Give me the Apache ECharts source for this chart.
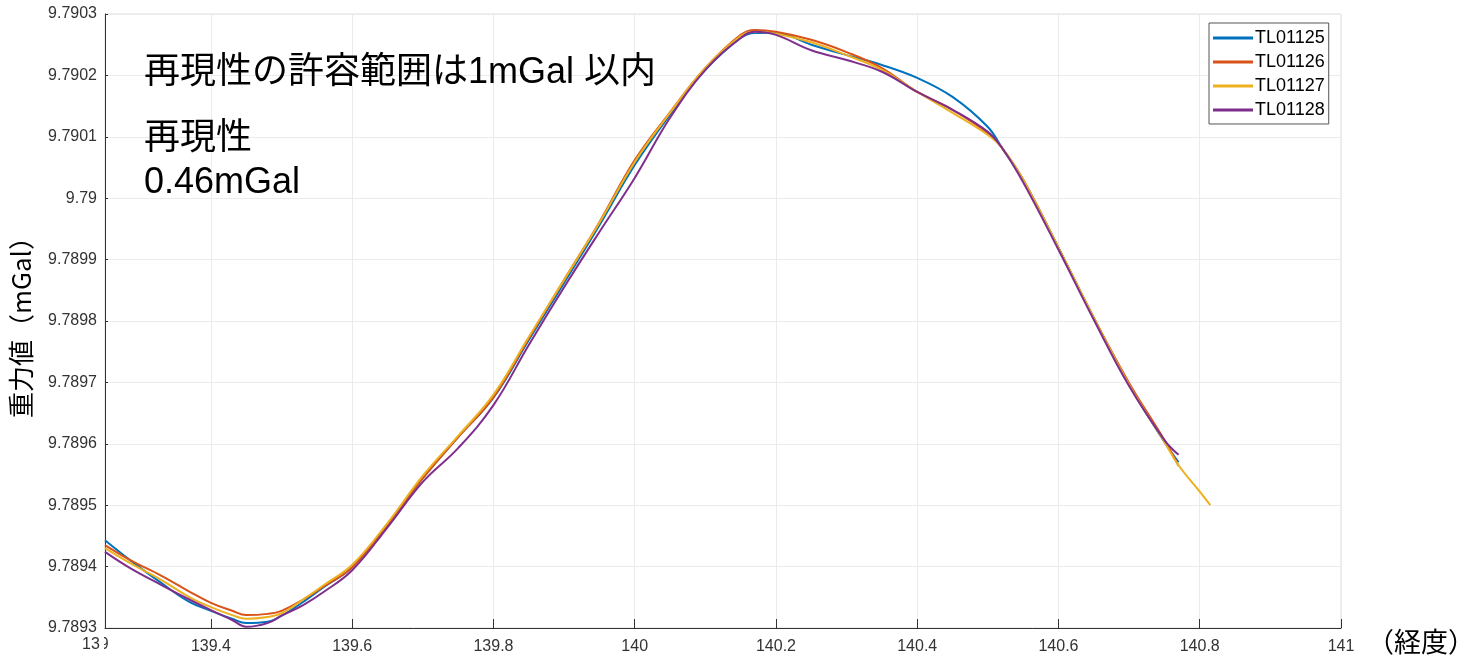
<!DOCTYPE html>
<html>
<head>
<meta charset="utf-8">
<script src="https://cdn.jsdelivr.net/npm/echarts@6/dist/echarts.min.js"></script>
<style>
html,body{margin:0;padding:0;background:#fff;}
#chart{width:1482px;height:666px;}
</style>
</head>
<body>
<div id="chart"></div>
<script>
// Longitude sample positions (shared)
const longitudes = [139.25, 139.285, 139.33, 139.37, 139.4, 139.43, 139.45, 139.48, 139.5, 139.53, 139.56, 139.6,
  139.65, 139.7, 139.75, 139.8, 139.85, 139.9, 139.95, 140, 140.05, 140.1, 140.15, 140.17, 140.2, 140.25,
  140.3, 140.35, 140.4, 140.45, 140.5, 140.52, 140.55, 140.6, 140.65, 140.7, 140.75, 140.77];
const longitudesExtra = [140.8, 140.815];

const seriesNames = ['TL01125', 'TL01126', 'TL01127', 'TL01128'];

const gTL01125 = [9.789443, 9.789411, 9.789373, 9.789342, 9.789328, 9.789315, 9.789308, 9.789310, 9.789320, 9.789342, 9.789367, 9.789399,
  9.789468, 9.789544, 9.789611, 9.789675, 9.789769, 9.789862, 9.789956, 9.790054, 9.790136, 9.790209, 9.790261, 9.790269, 9.790269, 9.790250,
  9.790233, 9.790217, 9.790196, 9.790165, 9.790116, 9.790082, 9.790030, 9.789919, 9.789805, 9.789696, 9.789603, 9.789570];
const gTL01126 = [9.789435, 9.789411, 9.789385, 9.789359, 9.789341, 9.789328, 9.789321, 9.789323, 9.789328, 9.789346, 9.789368, 9.789399,
  9.789468, 9.789544, 9.789611, 9.789676, 9.789772, 9.789867, 9.789961, 9.790062, 9.790140, 9.790212, 9.790266, 9.790274, 9.790271, 9.790258,
  9.790238, 9.790212, 9.790173, 9.790144, 9.790106, 9.790082, 9.790030, 9.789919, 9.789805, 9.789699, 9.789606, 9.789564];
const gTL01127 = [9.789430, 9.789406, 9.789378, 9.789350, 9.789334, 9.789321, 9.789315, 9.789318, 9.789324, 9.789346, 9.789370, 9.789403,
  9.789471, 9.789548, 9.789613, 9.789680, 9.789774, 9.789867, 9.789960, 9.790059, 9.790139, 9.790212, 9.790264, 9.790271, 9.790268, 9.790254,
  9.790233, 9.790209, 9.790173, 9.790139, 9.790103, 9.790082, 9.790030, 9.789919, 9.789805, 9.789696, 9.789603, 9.789565];
const gTL01127Extra = [9.789522, 9.789500];
const gTL01128 = [9.789424, 9.789398, 9.789370, 9.789346, 9.789329, 9.789313, 9.789302, 9.789308, 9.789320, 9.789337, 9.789359, 9.789394,
  9.789464, 9.789538, 9.789593, 9.789663, 9.789761, 9.789855, 9.789945, 9.790033, 9.790131, 9.790209, 9.790261, 9.790271, 9.790266, 9.790241,
  9.790225, 9.790206, 9.790173, 9.790144, 9.790108, 9.790082, 9.790026, 9.789916, 9.789802, 9.789694, 9.789606, 9.789582];

const xTickValues = [139.4, 139.6, 139.8, 140, 140.2, 140.4, 140.6, 140.8, 141];
const colors = ['#0072BD', '#D95319', '#EDB120', '#7E2F8E'];

function pairs(xs, ys) { return xs.map((x, i) => [x, ys[i]]); }
const seriesData = [
  pairs(longitudes, gTL01125),
  pairs(longitudes, gTL01126),
  pairs(longitudes.concat(longitudesExtra), gTL01127.concat(gTL01127Extra)),
  pairs(longitudes, gTL01128)
];

const FONT = "'Liberation Sans', Arial, 'Noto Sans CJK JP', sans-serif";
const CJK = "'Noto Sans CJK JP', sans-serif";

const chart = echarts.init(document.getElementById('chart'), null, {renderer: 'canvas'});
chart.setOption({
  animation: false,
  backgroundColor: '#fff',
  color: colors,
  grid: {left: 105, right: 141, top: 14, bottom: 38, containLabel: false, outerBoundsMode: 'none',
    show: true, borderColor: '#dcdcdc', borderWidth: 1},
  legend: {
    orient: 'vertical', left: 1209, top: 23,
    backgroundColor: '#fff', borderColor: '#555', borderWidth: 1,
    padding: [6, 4, 5, 4], itemGap: 6,
    itemWidth: 40, itemHeight: 3, icon: 'rect',
    textStyle: {fontFamily: FONT, fontSize: 18, color: '#000', padding: [0, 0, 0, -3]},
    data: seriesNames
  },
  xAxis: {
    type: 'value', min: 139.25, max: 141,
    axisLine: {show: true, onZero: false, lineStyle: {color: '#333', width: 1}},
    axisTick: {show: true, inside: true, length: 9, customValues: xTickValues, lineStyle: {color: '#333'}},
    axisLabel: {customValues: xTickValues, fontFamily: FONT, fontSize: 16, color: '#333', margin: 11,
      formatter: v => String(+v.toFixed(1))},
    splitLine: {show: true, lineStyle: {color: '#ebebeb', width: 1}},
    name: '（経度）', nameLocation: 'end', nameGap: 26,
    nameTextStyle: {fontFamily: CJK, fontSize: 27, color: '#000', verticalAlign: 'top'}
  },
  yAxis: {
    type: 'value', min: 9.7893, max: 9.7903, interval: 0.0001,
    axisLine: {show: true, lineStyle: {color: '#333', width: 1}},
    axisTick: {show: true, inside: true, length: 3, lineStyle: {color: '#333'}},
    axisLabel: {fontFamily: FONT, fontSize: 16, color: '#333', margin: 8,
      formatter: v => String(+v.toFixed(4))},
    splitLine: {show: true, lineStyle: {color: '#ebebeb', width: 1}},
    name: '重力値（mGal）', nameLocation: 'middle', nameGap: 71, nameRotate: 90,
    nameTextStyle: {fontFamily: CJK, fontSize: 26, color: '#000'}
  },
  series: seriesNames.map((n, i) => ({
    name: n, type: 'line', data: seriesData[i], showSymbol: false, smooth: 0.4,
    lineStyle: {width: 2, color: colors[i]}, z: 2 + i
  })),
  graphic: [
    {type: 'text', x: 144, y: 73, z: 100, style: {text: '再現性の許容範囲は1mGal 以内', font: "36px " + FONT, fill: '#000', verticalAlign: 'middle'}},
    {type: 'text', x: 144, y: 139, z: 100, style: {text: '再現性', font: "36px " + FONT, fill: '#000', verticalAlign: 'middle'}},
    {type: 'text', x: 144, y: 183, z: 100, style: {text: '0.46mGal', font: "36px " + FONT, fill: '#000', verticalAlign: 'middle'}},
    {type: 'text', x: 82, y: 645, z: 100, style: {text: '139', font: "16px " + FONT, fill: '#333', verticalAlign: 'middle'}},
    {type: 'rect', shape: {x: 100, y: 636, width: 4, height: 20}, style: {fill: '#fff'}, z: 101}
  ]
});
</script>
</body>
</html>
